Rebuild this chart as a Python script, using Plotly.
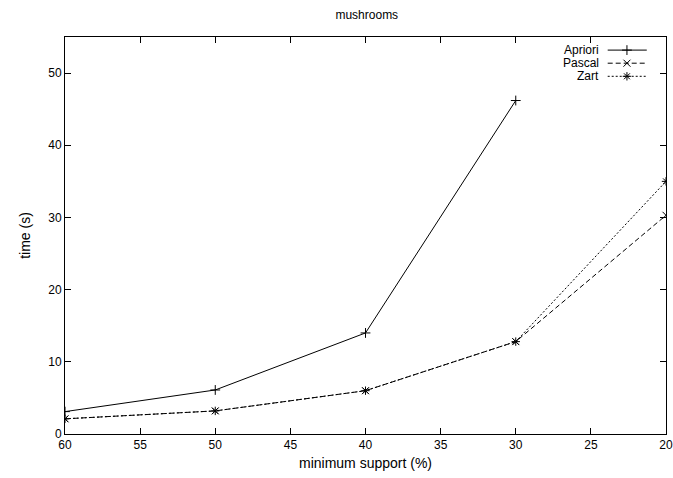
import plotly.graph_objects as go

support = [60, 50, 40, 30, 20]
apriori = [3.1, 6.1, 14.0, 46.2]
pascal = [2.1, 3.2, 6.0, 12.8, 30.3]
zart = [2.1, 3.2, 6.0, 12.8, 35.0]
x_ticks = [60, 55, 50, 45, 40, 35, 30, 25, 20]
y_ticks = [0, 10, 20, 30, 40, 50]

FONT = "Liberation Sans, Arial, sans-serif"
series = [
    ("Apriori", support[:len(apriori)], apriori, "solid", "cross-thin-open"),
    ("Pascal", support, pascal, "5px,3px", "x-thin-open"),
    ("Zart", support, zart, "2px,2px", "asterisk-open"),
]

fig = go.Figure()
for name, xs, ys, dash, sym in series:
    fig.add_trace(go.Scatter(
        x=xs, y=ys, mode="lines+markers", name=name, showlegend=False,
        line=dict(color="black", width=1, dash=dash),
        marker=dict(symbol=sym, size=7, color="black", line=dict(color="black", width=1)),
    ))

# custom gnuplot-style legend (text left, sample right) on an overlay axis
leg_y = [0.967, 0.934, 0.901]
for (name, xs, ys, dash, sym), ly in zip(series, leg_y):
    fig.add_trace(go.Scatter(
        x=[0.903, 0.968], y=[ly, ly], xaxis="x2", yaxis="y2", mode="lines",
        line=dict(color="black", width=1, dash=dash), showlegend=False, hoverinfo="skip"))
    fig.add_trace(go.Scatter(
        x=[0.935], y=[ly], xaxis="x2", yaxis="y2", mode="markers",
        marker=dict(symbol=sym, size=7, color="black", line=dict(color="black", width=1)),
        showlegend=False, hoverinfo="skip"))
    fig.add_annotation(x=0.89, y=ly, xref="x2", yref="y2", text=name, showarrow=False,
                       xanchor="right", yanchor="middle", borderpad=0,
                       font=dict(family=FONT, size=12, color="black"))

fig.update_layout(
    width=673, height=478,
    margin=dict(l=65, r=7, t=37, b=44, autoexpand=False),
    paper_bgcolor="white", plot_bgcolor="white",
    font=dict(family=FONT, size=12, color="black"),
    title=dict(text="mushrooms", x=0.545, xanchor="center", y=0.97, yanchor="middle",
               font=dict(family=FONT, size=12, color="black")),
    xaxis=dict(range=[60, 20], tickvals=x_ticks, ticks="inside", ticklen=6, tickcolor="black",
               showline=True, linecolor="black", linewidth=1, mirror="ticks", showgrid=False,
               zeroline=False, automargin=False, title=dict(text="minimum support (%)", standoff=6),
               tickfont=dict(size=12)),
    yaxis=dict(range=[0, 55], tickvals=y_ticks, ticks="inside", ticklen=6, tickcolor="black",
               showline=True, linecolor="black", linewidth=1, mirror="ticks", showgrid=False,
               zeroline=False, automargin=False, title=dict(text="time (s)", standoff=14),
               tickfont=dict(size=12)),
    xaxis2=dict(range=[0, 1], overlaying="x", visible=False, fixedrange=True),
    yaxis2=dict(range=[0, 1], overlaying="y", visible=False, fixedrange=True),
)

fig.write_html("out.html")
